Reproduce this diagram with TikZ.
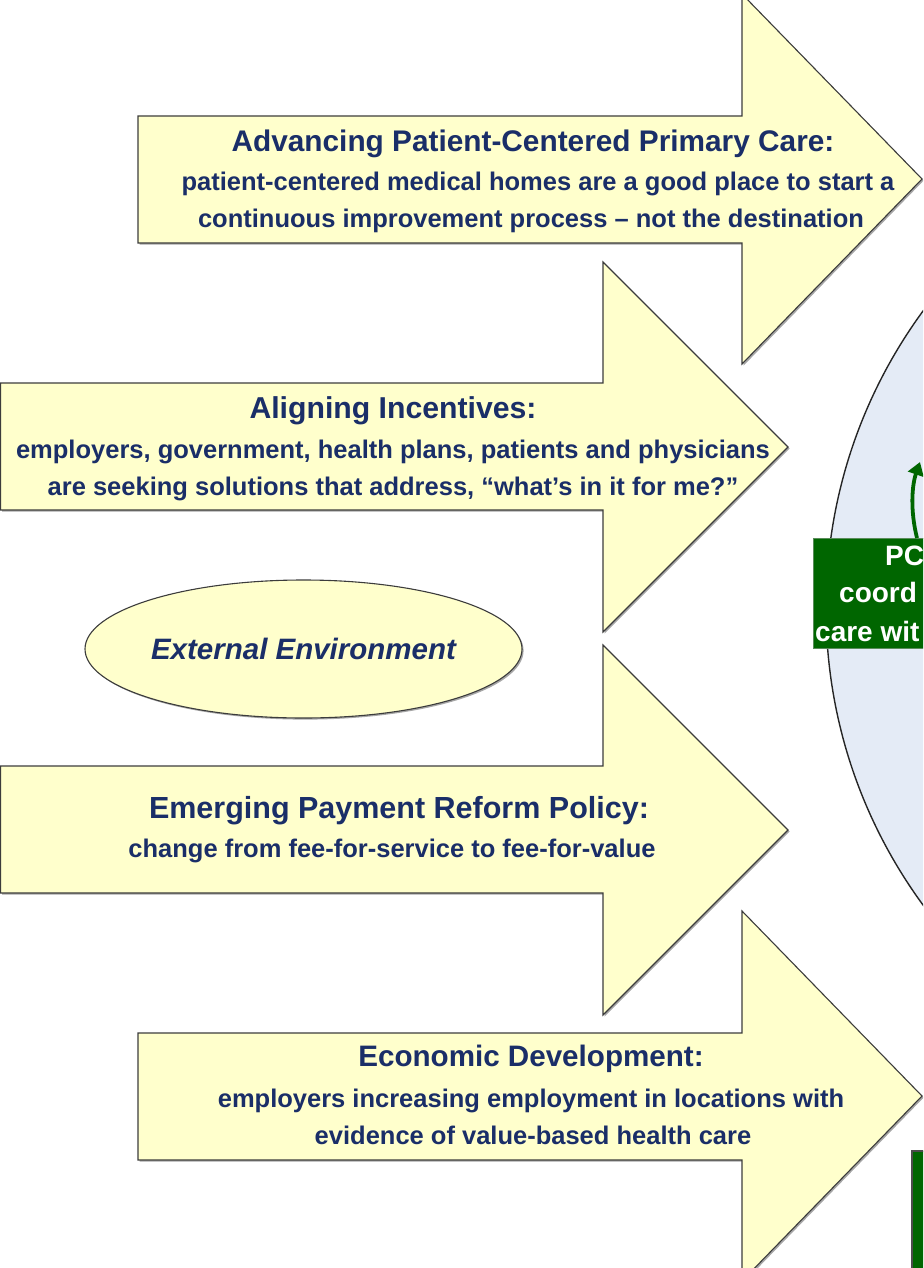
\documentclass[tikz,border=0pt]{standalone}
\usepackage{fontspec}
\setmainfont{Liberation Sans}
\usetikzlibrary{shadows,calc,arrows.meta,shapes.geometric}
\definecolor{yel}{RGB}{255,255,204}
\definecolor{outl}{RGB}{60,60,60}
\definecolor{navy}{RGB}{26,46,104}
\definecolor{circfill}{RGB}{228,235,246}
\definecolor{dkgreen}{RGB}{0,102,0}
\definecolor{gedge}{RGB}{90,140,90}
\begin{document}
\begin{tikzpicture}[x=1pt,y=-1pt,
  bigarrow/.style={fill=yel, draw=outl, line width=1.1pt, line join=miter,
    drop shadow={shadow xshift=1.6pt, shadow yshift=-1.6pt, opacity=0.35, fill=black}},
  ttl/.style={anchor=base, text=navy, inner sep=0pt, font=\bfseries\fontsize{#1}{36}\selectfont},
  ttl/.default=30.5,
  bdy/.style={anchor=base, text=navy, inner sep=0pt, font=\bfseries\fontsize{25.5}{30}\selectfont},
  wtxt/.style={anchor=base west, text=white, inner sep=0pt, font=\bfseries\fontsize{28}{32}\selectfont},
]
\useasboundingbox (0,0) rectangle (923,1268);
\clip (0,0) rectangle (923,1268);

% big circle on the right
\draw[fill=circfill, draw=black!85, line width=1.4pt] (1329,608) circle [radius=503pt];

% arrow 1
\path[bigarrow] (138,116) -- (742,116) -- (742,-6) -- (922,179) -- (742,364) -- (742,243) -- (138,243) -- cycle;
% arrow 2
\path[bigarrow] (0.6,383) -- (603,383) -- (603,262) -- (788,447) -- (603,632) -- (603,510) -- (0.6,510) -- cycle;
% arrow 3
\path[bigarrow] (0.6,766) -- (603,766) -- (603,645) -- (788,830) -- (603,1015) -- (603,893) -- (0.6,893) -- cycle;
% arrow 4
\path[bigarrow] (138,1033) -- (742,1033) -- (742,911) -- (922,1096) -- (742,1281) -- (742,1160) -- (138,1160) -- cycle;

% texts of arrow 1
\node[ttl=29.8] (a1t) at (533,152) {Advancing Patient-Centered Primary Care:};
\node[bdy] (a1b) at (538,190) {patient-centered medical homes are a good place to start a};
\node[bdy] (a1c) at (531,227) {continuous improvement process – not the destination};

% texts of arrow 2
\node[ttl=30.2] (a2t) at (393,418) {Aligning Incentives:};
\node[bdy] (a2b) at (393,458) {employers, government, health plans, patients and physicians};
\node[bdy] (a2c) at (393,495) {are seeking solutions that address, “what’s in it for me?”};

% texts of arrow 3
\node[ttl=30.5] (a3t) at (399,818) {Emerging Payment Reform Policy:};
\node[bdy] (a3b) at (392,857) {change from fee-for-service to fee-for-value};

% texts of arrow 4
\node[ttl=29.6] (a4t) at (531,1066) {Economic Development:};
\node[bdy] (a4b) at (531,1107) {employers increasing employment in locations with};
\node[bdy] (a4c) at (533,1144) {evidence of value-based health care};

% ellipse
\node[ellipse, fill=yel, draw=outl, line width=1.1pt, minimum width=437pt, minimum height=138pt,
  inner sep=0pt, text=navy, font=\bfseries\itshape\fontsize{29.5}{34}\selectfont,
  drop shadow={shadow xshift=1.6pt, shadow yshift=-1.6pt, opacity=0.35, fill=black}]
  (env) at (303.5,649) {External Environment};

% green box (cut at the edge)
\node[anchor=north west, fill=dkgreen, draw=gedge, line width=0.8pt, minimum width=125pt,
  minimum height=110pt, inner sep=0pt] (gbox) at (813,538) {};
\node[wtxt] (g1) at (885,565) {PC};
\node[wtxt] (g2) at (839,602) {coord};
\node[wtxt] (g3) at (815,641) {care wit};

% green connector
\coordinate (gend) at (920,462);
\draw[dkgreen, line width=3.8pt, -{Triangle[length=13pt,width=16pt]}]
  ($(gbox.north west)+(104,0)$) .. controls (910,510) and (912,485) .. (gend);

% bottom right green box
\node[anchor=north west, fill=dkgreen, draw=black!70, line width=1.8pt, minimum width=30pt,
  minimum height=130pt, inner sep=0pt] (gbox2) at (911,1150) {};
\end{tikzpicture}
\end{document}
